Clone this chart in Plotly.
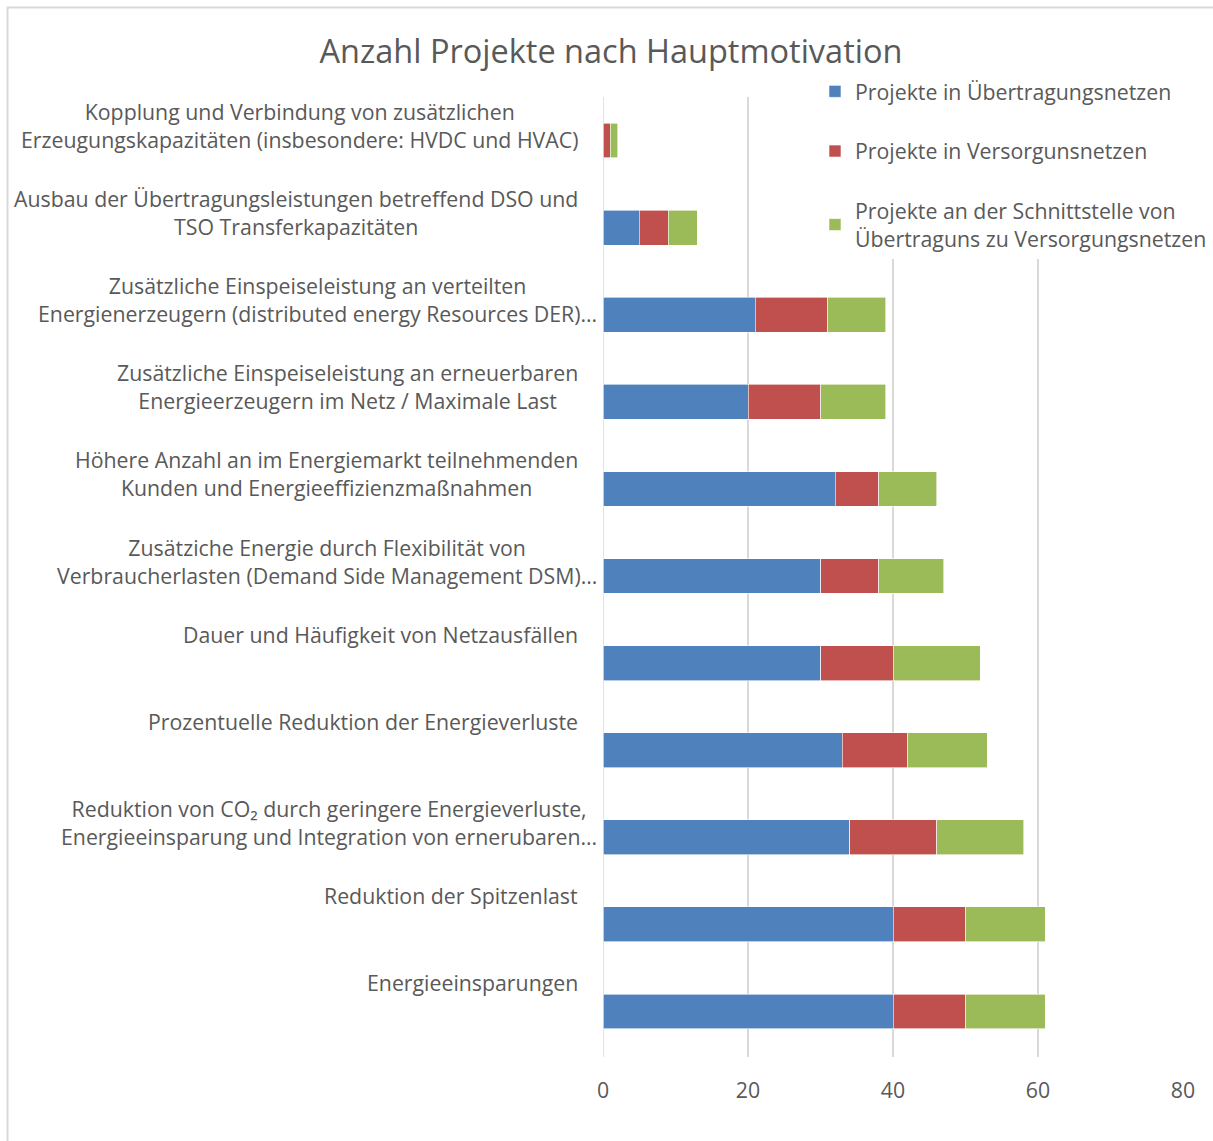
import plotly.graph_objects as go

categories = [
    "Kopplung und Verbindung von zusätzlichen<br>Erzeugungskapazitäten (insbesondere: HVDC und HVAC)",
    "Ausbau der Übertragungsleistungen betreffend DSO und<br>TSO Transferkapazitäten",
    "Zusätzliche Einspeiseleistung an verteilten<br>Energienerzeugern (distributed energy Resources DER)…",
    "Zusätzliche Einspeiseleistung an erneuerbaren<br>Energieerzeugern im Netz / Maximale Last",
    "Höhere Anzahl an im Energiemarkt teilnehmenden<br>Kunden und Energieeffizienzmaßnahmen",
    "Zusätziche Energie durch Flexibilität von<br>Verbraucherlasten (Demand Side Management DSM)…",
    "Dauer und Häufigkeit von Netzausfällen",
    "Prozentuelle Reduktion der Energieverluste",
    "Reduktion von CO₂ durch geringere Energieverluste,<br>Energieeinsparung und Integration von ernerubaren…",
    "Reduktion der Spitzenlast",
    "Energieeinsparungen",
]
uebertragung = [0, 5, 21, 20, 32, 30, 30, 33, 34, 40, 40]
versorgung = [1, 4, 10, 10, 6, 8, 10, 9, 12, 10, 10]
schnittstelle = [1, 4, 8, 9, 8, 9, 12, 11, 12, 11, 11]
series_names = [
    "Projekte in Übertragungsnetzen",
    "Projekte in Versorgunsnetzen",
    "Projekte an der Schnittstelle von<br>Übertraguns zu Versorgungsnetzen",
]
colors = ["#4F81BD", "#C0504D", "#9BBB59"]
x_ticks = [0, 20, 40, 60, 80]

FONT = "Open Sans"
GREY = "#595959"
FS = 21.3

W, H = 1213, 1141
L, R, T, B = 603, 30, 97, 84
plot_w = W - L - R
plot_h = H - T - B

fig = go.Figure()
for name, vals, col in zip(series_names, [uebertragung, versorgung, schnittstelle], colors):
    fig.add_trace(go.Bar(
        y=categories, x=vals, name=name, orientation="h",
        marker=dict(color=col, line=dict(color="white", width=0.6)),
        legendgroup=name,
    ))

annotations = []
for cat in categories:
    shift = -4 if cat.endswith("…") else -23
    annotations.append(dict(
        x=0, y=cat, xref="x", yref="y", text=cat, showarrow=False,
        xanchor="right", yanchor="top", align="center",
        xshift=shift, yshift=45.5,
        font=dict(family=FONT, size=FS, color=GREY),
    ))

def px_x(px):
    return (px - L) / plot_w

def px_y(py):
    return (H - B - py) / plot_h

fig.update_layout(
    width=W, height=H,
    margin=dict(l=L, r=R, t=T, b=B, autoexpand=False),
    paper_bgcolor="white", plot_bgcolor="white",
    barmode="stack", bargap=0.6,
    font=dict(family=FONT, size=FS, color=GREY),
    title=dict(text="Anzahl Projekte nach Hauptmotivation", x=611 / W, y=1 - 52 / H,
               xanchor="center", yanchor="middle",
               font=dict(family=FONT, size=32.5, color=GREY)),
    xaxis=dict(range=[0, 80], tickvals=x_ticks, showgrid=True, gridcolor="#D9D9D9",
               gridwidth=1.5, zeroline=False, showline=False,
               ticks="outside", ticklen=0, ticklabelstandoff=14,
               tickfont=dict(family=FONT, size=FS, color=GREY)),
    yaxis=dict(autorange="reversed", showticklabels=False, showgrid=False,
               zeroline=False, showline=False),
    legend=dict(x=px_x(815), y=px_y(71), xanchor="left", yanchor="top",
                bgcolor="white", traceorder="grouped", tracegroupgap=29,
                font=dict(family=FONT, size=FS, color=GREY)),
    annotations=annotations,
    shapes=[
        dict(type="line", xref="x", yref="paper", x0=0, x1=0, y0=0, y1=1,
             line=dict(color="#D9D9D9", width=1.5), layer="below"),
        dict(type="rect", xref="paper", yref="paper",
             x0=px_x(7.5), x1=px_x(W + 10), y0=px_y(H + 10), y1=px_y(7.5),
             line=dict(color="#D9D9D9", width=2), layer="below"),
    ],
)

fig.write_html("out.html")
